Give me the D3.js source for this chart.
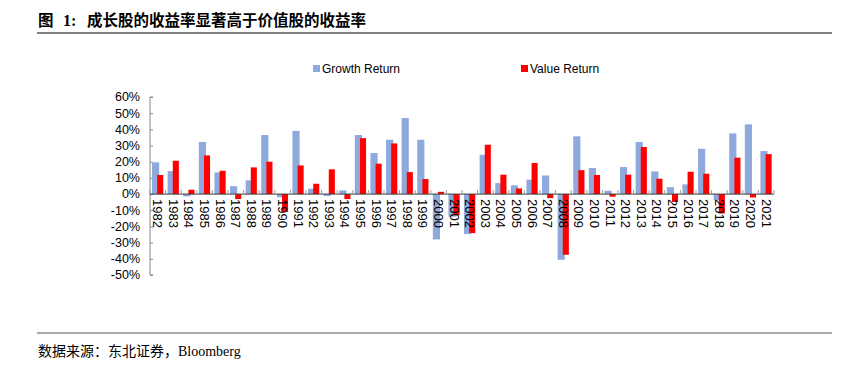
<!DOCTYPE html>
<meta charset="utf-8">
<style>
body {
  margin: 0;
  background: #fff;
}
text {
  font-family: "Liberation Sans", Arial, sans-serif;
}
.title {
  font-family: "Noto Sans CJK SC", sans-serif;
  font-weight: bold;
  font-size: 15.5px;
}
.source {
  font-family: "Liberation Serif", "Noto Sans CJK SC", serif;
  font-size: 14px;
}
</style>
<body>
<script src="https://cdn.jsdelivr.net/npm/d3@7/dist/d3.min.js"></script>
<script>

var width = 861,
    height = 369;

var years = d3.range(1982, 2022).map(String);

var growthReturn = [19.6, 14.2, -1.4, 32.2, 13.4, 4.9, 8.5, 36.5, -2.0, 39.0,
                    3.3, -1.2, 2.3, 36.5, 25.4, 33.6, 47.0, 33.6, -28.0, -14.0,
                    -24.7, 24.3, 6.8, 5.4, 8.9, 11.5, -40.6, 35.7, 16.1, 2.1,
                    16.7, 32.2, 14.0, 4.3, 6.0, 28.0, -3.7, 37.5, 43.1, 26.6];

var valueReturn = [11.8, 20.6, 2.7, 23.9, 14.4, -3.1, 16.5, 20.0, -11.0, 17.7,
                   6.4, 15.3, -3.1, 34.6, 18.8, 31.3, 13.6, 9.3, 1.4, -13.0,
                   -24.1, 30.5, 12.0, 3.5, 19.2, -2.5, -37.5, 14.8, 11.8, -1.6,
                   12.0, 29.1, 9.5, -4.9, 13.8, 12.6, -12.0, 22.5, -2.1, 24.7];

var yTicks = [60, 50, 40, 30, 20, 10, 0, -10, -20, -30, -40, -50];

var seriesNames = ["Growth Return", "Value Return"];
var colors = ["#8eaadc", "#ff0000"];

var svg = d3.select("body").append("svg")
    .attr("width", width)
    .attr("height", height);

// title
var title = svg.append("g");
title.append("text").attr("class", "title").attr("x", 38).attr("y", 26).text("图");
title.append("text").attr("class", "title").attr("x", 63).attr("y", 26)
    .style("font-family", "'Liberation Serif', serif").style("font-size", "16px").text("1:");
title.append("text").attr("class", "title").attr("x", 87).attr("y", 26)
    .text("成长股的收益率显著高于价值股的收益率");

svg.append("line")
    .attr("x1", 37).attr("x2", 832)
    .attr("y1", 33).attr("y2", 33)
    .attr("stroke", "#000").attr("stroke-width", 1.2);

// scales
var x = d3.scaleBand()
    .domain(years)
    .range([150, 774])
    .padding(0);

var y = d3.scaleLinear()
    .domain([-50, 60])
    .range([275, 97]);

var bw = x.bandwidth();

// y axis
var yAxis = svg.append("g")
    .attr("transform", "translate(150,0)")
    .call(d3.axisRight(y).tickValues(yTicks).tickSize(3).tickFormat(function(d) { return ""; }));
yAxis.select(".domain").attr("stroke", "#898989").attr("d", "M0," + y(60) + "V" + y(-50) + "M0," + y(60) + "h3M0," + y(-50) + "h3");
yAxis.selectAll(".tick line").attr("stroke", "#898989");

svg.selectAll(".ylab")
    .data(yTicks)
  .enter().append("text")
    .attr("class", "ylab")
    .attr("x", 140)
    .attr("y", function(d) { return y(d); })
    .attr("dy", "0.35em")
    .attr("text-anchor", "end")
    .style("font-size", "12.5px")
    .attr("fill", "#000")
    .text(function(d) { return d + "%"; });

// bars
svg.selectAll(".growth")
    .data(growthReturn)
  .enter().append("rect")
    .attr("class", "growth")
    .attr("x", function(d, i) { return x(years[i]) + bw * 0.13; })
    .attr("width", bw * 0.46)
    .attr("y", function(d) { return y(Math.max(0, d)); })
    .attr("height", function(d) { return Math.abs(y(d) - y(0)); })
    .attr("fill", colors[0]);

svg.selectAll(".value")
    .data(valueReturn)
  .enter().append("rect")
    .attr("class", "value")
    .attr("x", function(d, i) { return x(years[i]) + bw * 0.46; })
    .attr("width", bw * 0.39)
    .attr("y", function(d) { return y(Math.max(0, d)); })
    .attr("height", function(d) { return Math.abs(y(d) - y(0)); })
    .attr("fill", colors[1]);

// x axis (zero line + ticks)
svg.append("line")
    .attr("x1", 150).attr("x2", 774)
    .attr("y1", y(0)).attr("y2", y(0))
    .attr("stroke", "#3a3a3a").attr("stroke-width", 1);

svg.selectAll(".xtick")
    .data(years.concat(["end"]))
  .enter().append("line")
    .attr("class", "xtick")
    .attr("x1", function(d, i) { return 150 + i * bw; })
    .attr("x2", function(d, i) { return 150 + i * bw; })
    .attr("y1", y(0) - 4).attr("y2", y(0))
    .attr("stroke", "#9a9a9a");

svg.selectAll(".xlab")
    .data(years)
  .enter().append("text")
    .attr("class", "xlab")
    .attr("transform", function(d) { return "translate(" + (x(d) + bw / 2) + "," + (y(0) + 5) + ") rotate(90)"; })
    .attr("dy", "0.35em")
    .style("font-size", "13px")
    .attr("fill", "#000")
    .text(function(d) { return d; });

// legend
var legend = svg.selectAll(".legend")
    .data(seriesNames)
  .enter().append("g")
    .attr("class", "legend")
    .attr("transform", function(d, i) { return "translate(" + [313, 521][i] + ",65)"; });

legend.append("rect")
    .attr("width", 7).attr("height", 7)
    .attr("fill", function(d, i) { return colors[i]; });

legend.append("text")
    .attr("x", 9).attr("y", 3.5)
    .attr("dy", "0.35em")
    .style("font-size", "12px")
    .text(function(d) { return d; });

// source
svg.append("line")
    .attr("x1", 37).attr("x2", 832)
    .attr("y1", 333).attr("y2", 333)
    .attr("stroke", "#555").attr("stroke-width", 1.2);

svg.append("text")
    .attr("class", "source")
    .attr("x", 38).attr("y", 356)
    .text("数据来源：东北证券，Bloomberg");

</script>
